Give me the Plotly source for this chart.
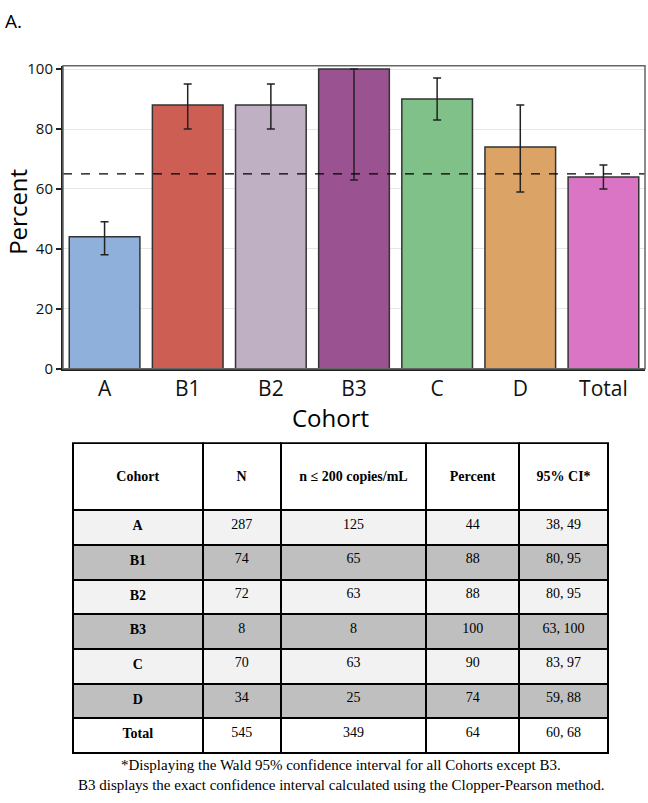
import plotly.graph_objects as go

# ---- data ----
cohorts = ["A", "B1", "B2", "B3", "C", "D", "Total"]
percent = [44, 88, 88, 100, 90, 74, 64]
ci_low = [38, 80, 80, 63, 83, 59, 60]
ci_high = [49, 95, 95, 100, 97, 88, 68]
n_total = [287, 74, 72, 8, 70, 34, 545]
n_suppressed = [125, 65, 63, 8, 63, 25, 349]
bar_colors = ["#8FB0DB", "#CC5E54", "#BFB0C3", "#9A5290", "#80C089", "#DBA466", "#DA74C5"]
reference_line = 65
y_ticks = [0, 20, 40, 60, 80, 100]
table_header = ["Cohort", "N", "n \u2264 200 copies/mL", "Percent", "95% CI*"]
row_fills = ["#F2F2F2", "#BFBFBF", "#F2F2F2", "#BFBFBF", "#F2F2F2", "#BFBFBF", "#FFFFFF"]
footnote_1 = "*Displaying the Wald 95% confidence interval for all Cohorts except B3."
footnote_2 = "B3 displays the exact confidence interval calculated using the Clopper-Pearson method."

W, H = 648, 803
SANS = "Open Sans"
SERIF = "Liberation Serif"

err_plus = [h - p for h, p in zip(ci_high, percent)]
err_minus = [p - l for p, l in zip(percent, ci_low)]

fig = go.Figure()
fig.add_trace(go.Bar(
    x=cohorts, y=percent, width=0.85,
    marker=dict(color=bar_colors, line=dict(color="#333333", width=1.5)),
    error_y=dict(type="data", symmetric=False, array=err_plus, arrayminus=err_minus,
                 color="#222222", thickness=1.5, width=4),
    showlegend=False, hoverinfo="x+y",
))

# table
ci_text = [f"{l}, {h}" for l, h in zip(ci_low, ci_high)]
fig.add_trace(go.Table(
    domain=dict(x=[73 / W, 609 / W], y=[0, (H - 445) / H]),
    columnwidth=[130, 78, 146, 93, 89],
    header=dict(
        values=[f"\u00a0<br><b>{h}</b>" for h in table_header],
        height=67, align="center", fill_color="white",
        line=dict(color="black", width=2),
        font=dict(family=SERIF, size=14, color="black"),
    ),
    cells=dict(
        values=[[f"<b>{c}</b>" for c in cohorts], n_total, n_suppressed, percent, ci_text],
        height=34.7, align="center",
        fill_color=[row_fills] * 5,
        line=dict(color="black", width=2),
        font=dict(family=SERIF, size=14, color="black"),
    ),
))

fig.add_shape(type="line", xref="x domain", yref="y", x0=0, x1=1,
              y0=reference_line, y1=reference_line,
              line=dict(color="black", width=1.2, dash="dash"), layer="above")
# plot frame (top/right lighter)
fig.add_shape(type="rect", xref="x domain", yref="y domain", x0=0, x1=1, y0=0, y1=1,
              line=dict(color="#666666", width=1.5), layer="above")

fig.update_layout(
    width=W, height=H,
    margin=dict(l=0, r=0, t=0, b=0),
    paper_bgcolor="white", plot_bgcolor="white",
    bargap=0.15,
    xaxis=dict(domain=[63 / W, 645 / W], type="category", range=[-0.5, 6.5],
               showline=True, linecolor="#222222", linewidth=2, ticks="",
               tickfont=dict(family=SANS, size=21, color="#111111"),
               showgrid=False, fixedrange=True),
    yaxis=dict(domain=[(H - 369) / H, (H - 60) / H], range=[0, 101.1],
               tickvals=y_ticks, showline=True, linecolor="#222222", linewidth=2,
               ticks="outside", ticklen=5, tickcolor="#222222", tickwidth=1.5,
               tickfont=dict(family=SANS, size=15, color="#111111"),
               showgrid=True, gridcolor="#E6E6E6", gridwidth=1, zeroline=False,
               fixedrange=True),
    annotations=[
        dict(text="A.", xref="paper", yref="paper", x=3 / W, y=1 - 14 / H,
             xanchor="left", yanchor="middle", showarrow=False,
             font=dict(family=SANS, size=19, color="black")),
        dict(text="Percent", xref="paper", yref="paper", x=18 / W, y=1 - 209 / H,
             xanchor="center", yanchor="middle", textangle=-90, showarrow=False,
             font=dict(family=SANS, size=24, color="black")),
        dict(text="Cohort", xref="paper", yref="paper", x=330 / W, y=1 - 419 / H,
             xanchor="center", yanchor="middle", showarrow=False,
             font=dict(family=SANS, size=24, color="black")),
        dict(text=footnote_1, xref="paper", yref="paper", x=341 / W, y=1 - 773 / H,
             xanchor="center", yanchor="middle", showarrow=False,
             font=dict(family=SERIF, size=15, color="black")),
        dict(text=footnote_2, xref="paper", yref="paper", x=341 / W, y=1 - 794 / H,
             xanchor="center", yanchor="middle", showarrow=False,
             font=dict(family=SERIF, size=15, color="black")),
    ],
)

fig.write_html("out.html", config={"displayModeBar": False},
               post_script="document.body.style.margin='0';document.body.style.overflow='hidden';")
